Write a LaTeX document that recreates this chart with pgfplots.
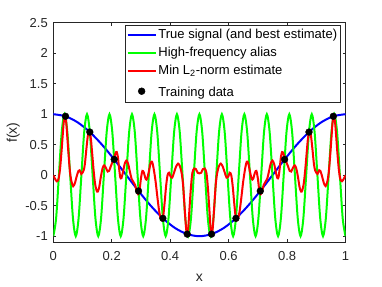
\documentclass[border=0pt]{standalone}
\usepackage{pgfplots}
\pgfplotsset{compat=1.18}
\usepackage{fontspec}
\setmainfont{Liberation Sans}
\definecolor{axgray}{rgb}{0.15,0.15,0.15}
\begin{document}
\begin{tikzpicture}
\begin{axis}[
  scale only axis, width=292.2pt, height=219.6pt,
  xmin=0, xmax=1, ymin=-1.1, ymax=2.5,
  xtick={0,0.2,0.4,0.6,0.8,1}, xticklabels={0,0.2,0.4,0.6,0.8,1},
  ytick={-1,-0.5,0,0.5,1,1.5,2,2.5}, yticklabels={-1,-0.5,0,0.5,1,1.5,2,2.5},
  tick align=inside, major tick length=3pt,
  axis line style={axgray, line width=0.5pt},
  tick style={axgray, line width=0.5pt},
  ticklabel style={font=\fontsize{13}{15}\selectfont, text=axgray},
  xticklabel style={yshift=-6pt},
  yticklabel style={xshift=-2pt},
  xlabel={x}, ylabel={f(x)},
  label style={font=\fontsize{14}{16}\selectfont, text=axgray},
  xlabel style={at={(axis description cs:0.5,-0.1626)}, anchor=center},
  ylabel style={at={(axis description cs:-0.137,0.5)}, anchor=center},
  legend cell align=left,
  legend image code/.code={\draw[mark repeat=2,mark phase=2,#1] plot coordinates {(0pt,0pt) (14pt,0pt) (28pt,0pt)};},
  legend style={at={(axis description cs:0.9836,0.9895)}, anchor=north east,
    draw=axgray, line width=0.5pt, font=\fontsize{13}{15}\selectfont, text=black,
    inner sep=1.5pt, row sep=2.3pt,
    nodes={inner sep=1.8pt, text height=9.5pt, text depth=2.8pt}},
]
\addplot[blue, line width=2pt, smooth] coordinates {
(0,1) (0.04167,0.9659) (0.08333,0.8660) (0.125,0.7071) (0.16667,0.5) (0.20833,0.2588)
(0.25,0) (0.29167,-0.2588) (0.33333,-0.5) (0.375,-0.7071) (0.41667,-0.8660) (0.45833,-0.9659)
(0.5,-1) (0.54167,-0.9659) (0.58333,-0.8660) (0.625,-0.7071) (0.66667,-0.5) (0.70833,-0.2588)
(0.75,0) (0.79167,0.2588) (0.83333,0.5) (0.875,0.7071) (0.91667,0.8660) (0.95833,0.9659) (1,1)};
\addlegendentry{True signal (and best estimate)}
\addplot[color={rgb,1:red,0;green,1;blue,0}, line width=2pt, smooth] coordinates {
(0,-1) (0.00962,-0.7071) (0.01923,0) (0.02885,0.7071) (0.03846,1) (0.04808,0.7071) (0.05769,0) (0.06731,-0.7071)
(0.07692,-1) (0.08654,-0.7071) (0.09615,0) (0.10577,0.7071) (0.11538,1) (0.125,0.7071) (0.13462,0) (0.14423,-0.7071)
(0.15385,-1) (0.16346,-0.7071) (0.17308,0) (0.18269,0.7071) (0.19231,1) (0.20192,0.7071) (0.21154,0) (0.22115,-0.7071)
(0.23077,-1) (0.24038,-0.7071) (0.25,0) (0.25962,0.7071) (0.26923,1) (0.27885,0.7071) (0.28846,0) (0.29808,-0.7071)
(0.30769,-1) (0.31731,-0.7071) (0.32692,0) (0.33654,0.7071) (0.34615,1) (0.35577,0.7071) (0.36538,0) (0.375,-0.7071)
(0.38462,-1) (0.39423,-0.7071) (0.40385,0) (0.41346,0.7071) (0.42308,1) (0.43269,0.7071) (0.44231,0) (0.45192,-0.7071)
(0.46154,-1) (0.47115,-0.7071) (0.48077,0) (0.49038,0.7071) (0.5,1) (0.50962,0.7071) (0.51923,0) (0.52885,-0.7071)
(0.53846,-1) (0.54808,-0.7071) (0.55769,0) (0.56731,0.7071) (0.57692,1) (0.58654,0.7071) (0.59615,0) (0.60577,-0.7071)
(0.61538,-1) (0.625,-0.7071) (0.63462,0) (0.64423,0.7071) (0.65385,1) (0.66346,0.7071) (0.67308,0) (0.68269,-0.7071)
(0.69231,-1) (0.70192,-0.7071) (0.71154,0) (0.72115,0.7071) (0.73077,1) (0.74038,0.7071) (0.75,0) (0.75962,-0.7071)
(0.76923,-1) (0.77885,-0.7071) (0.78846,0) (0.79808,0.7071) (0.80769,1) (0.81731,0.7071) (0.82692,0) (0.83654,-0.7071)
(0.84615,-1) (0.85577,-0.7071) (0.86538,0) (0.875,0.7071) (0.88462,1) (0.89423,0.7071) (0.90385,0) (0.91346,-0.7071)
(0.92308,-1) (0.93269,-0.7071) (0.94231,0) (0.95192,0.7071) (0.96154,1) (0.97115,0.7071) (0.98077,0) (0.99038,-0.7071)
(1,-1)};
\addlegendentry{High-frequency alias}
\addplot[red, line width=2pt, smooth, tension=0.5] coordinates {
(0.000,0.00) (0.006,-0.06) (0.012,-0.10) (0.018,-0.06) (0.023,0.10) (0.028,0.38) (0.032,0.64) (0.036,0.88)
(0.040,0.97) (0.044,0.88) (0.048,0.62) (0.052,0.35) (0.057,0.06) (0.062,-0.10) (0.068,-0.18) (0.074,-0.13)
(0.080,-0.02) (0.086,0.07) (0.090,0.08) (0.096,0.02) (0.100,0.04) (0.104,0.08) (0.108,0.18) (0.113,0.42)
(0.118,0.64) (0.122,0.73) (0.125,0.71) (0.129,0.58) (0.133,0.36) (0.138,0.08) (0.143,-0.14) (0.148,-0.25)
(0.152,-0.27) (0.157,-0.20) (0.163,-0.02) (0.169,0.12) (0.174,0.16) (0.180,0.12) (0.186,0.06) (0.191,0.07)
(0.197,0.15) (0.203,0.22) (0.208,0.28) (0.213,0.36) (0.217,0.38) (0.221,0.30) (0.225,0.12) (0.229,-0.03)
(0.233,-0.05) (0.238,0.04) (0.244,0.18) (0.250,0.24) (0.256,0.19) (0.262,0.06) (0.268,-0.06) (0.274,-0.11)
(0.280,-0.16) (0.285,-0.26) (0.290,-0.31) (0.295,-0.25) (0.300,-0.05) (0.305,0.07) (0.310,0.04) (0.316,-0.06)
(0.321,-0.06) (0.327,0.06) (0.333,0.20) (0.338,0.22) (0.343,0.12) (0.350,-0.10) (0.356,-0.35) (0.362,-0.58)
(0.367,-0.70) (0.372,-0.74) (0.376,-0.68) (0.381,-0.45) (0.386,-0.18) (0.391,0.00) (0.396,0.04) (0.401,-0.02)
(0.407,-0.04) (0.413,0.04) (0.420,0.14) (0.427,0.19) (0.433,0.15) (0.439,0.04) (0.444,-0.15) (0.449,-0.50)
(0.454,-0.85) (0.458,-0.97) (0.462,-0.85) (0.466,-0.55) (0.471,-0.20) (0.476,0.04) (0.482,0.11) (0.488,0.10)
(0.494,0.04) (0.500,0.03)
(0.506,0.04) (0.512,0.10) (0.518,0.11) (0.524,0.04) (0.529,-0.20) (0.534,-0.55) (0.538,-0.85) (0.542,-0.97)
(0.546,-0.85) (0.551,-0.50) (0.556,-0.15) (0.561,0.04) (0.567,0.15) (0.573,0.19) (0.580,0.14) (0.587,0.04)
(0.593,-0.04) (0.599,-0.02) (0.604,0.04) (0.609,0.00) (0.614,-0.18) (0.619,-0.45) (0.624,-0.68) (0.628,-0.74)
(0.633,-0.70) (0.638,-0.58) (0.644,-0.35) (0.650,-0.10) (0.657,0.12) (0.662,0.22) (0.667,0.20) (0.673,0.06)
(0.679,-0.06) (0.684,-0.06) (0.690,0.04) (0.695,0.07) (0.700,-0.05) (0.705,-0.25) (0.710,-0.31) (0.715,-0.26)
(0.720,-0.16) (0.726,-0.11) (0.732,-0.06) (0.738,0.06) (0.744,0.19) (0.750,0.24) (0.756,0.18) (0.762,0.04)
(0.767,-0.05) (0.771,-0.03) (0.775,0.12) (0.779,0.30) (0.783,0.38) (0.787,0.36) (0.792,0.28) (0.797,0.22)
(0.803,0.15) (0.809,0.07) (0.814,0.06) (0.820,0.12) (0.826,0.16) (0.831,0.12) (0.837,-0.02) (0.843,-0.20)
(0.848,-0.27) (0.852,-0.25) (0.857,-0.14) (0.862,0.08) (0.867,0.36) (0.871,0.58) (0.875,0.71) (0.878,0.73)
(0.882,0.64) (0.887,0.42) (0.892,0.18) (0.896,0.08) (0.900,0.04) (0.904,0.02) (0.910,0.08) (0.914,0.07)
(0.920,-0.02) (0.926,-0.13) (0.932,-0.18) (0.938,-0.10) (0.943,0.06) (0.948,0.35) (0.952,0.62) (0.956,0.88)
(0.960,0.97) (0.964,0.88) (0.968,0.64) (0.972,0.38) (0.977,0.10) (0.982,-0.06) (0.988,-0.10) (0.994,-0.06)
(1.000,0.00)};
\addlegendentry{Min L\textsubscript{2}-norm estimate}
\addplot[only marks, mark=*, mark size=3.4pt, draw=black, fill=black] coordinates {
(0.04167,0.9659) (0.125,0.7071) (0.20833,0.2588) (0.29167,-0.2588) (0.375,-0.7071) (0.45833,-0.9659)
(0.54167,-0.9659) (0.625,-0.7071) (0.70833,-0.2588) (0.79167,0.2588) (0.875,0.7071) (0.95833,0.9659)};
\addlegendentry[text height=13.3pt]{Training data}
\coordinate (bbsw) at (rel axis cs:0,0);
\coordinate (bbne) at (rel axis cs:1,1);
\end{axis}
\path ([shift={(-53.3pt,-44.7pt)}]bbsw) rectangle ([shift={(36.5pt,22.7pt)}]bbne);
\end{tikzpicture}
\end{document}
